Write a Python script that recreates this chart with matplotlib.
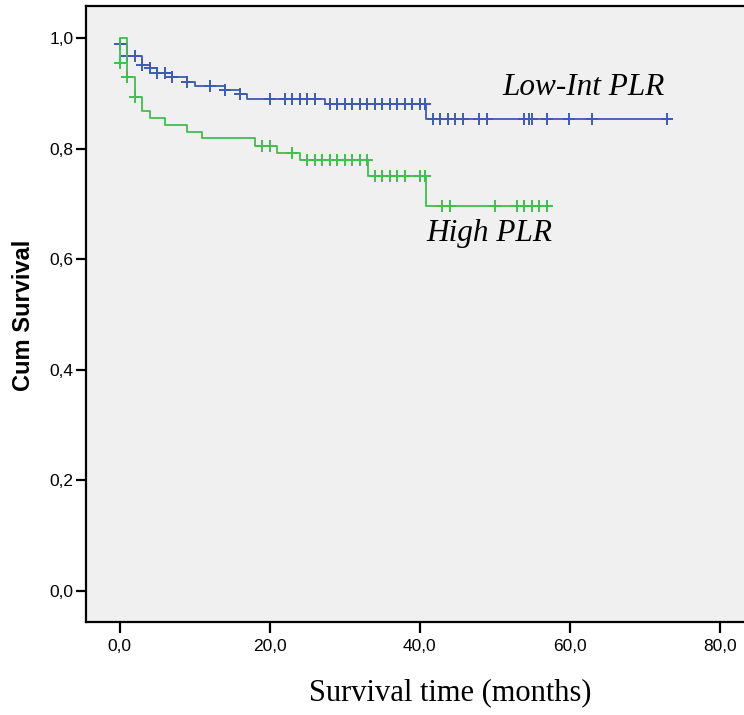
import matplotlib
matplotlib.use("Agg")
import matplotlib.pyplot as plt
from matplotlib.ticker import FuncFormatter

# Low-Int PLR group: step times and survival after each step
low_times = [0.0, 1.0, 3.0, 4.0, 4.9, 6.9, 9.0, 10.0, 14.0, 16.0, 17.0, 27.3, 40.8]
low_surv = [0.989, 0.967, 0.952, 0.945, 0.937, 0.929, 0.921, 0.914, 0.906, 0.898, 0.890, 0.880, 0.853]
low_end = 73.4
low_cens_t = [0.0, 1.0, 2.0, 3.0, 4.0, 5.0, 6.0, 6.9, 9.0, 12.0, 14.0, 16.0,
              20.0, 22.0, 23.0, 24.0, 25.0, 26.0,
              28.0, 29.0, 30.0, 31.0, 32.0, 33.0, 34.0, 35.0, 36.0, 37.0, 38.0, 39.0, 40.0,
              40.7, 41.7, 42.7, 43.7, 44.7, 45.7, 47.9, 48.9, 53.9, 54.6, 54.9, 56.9, 59.9, 62.9, 72.9]

# High PLR group
high_times = [0.0, 0.0, 1.0, 2.0, 3.0, 4.0, 6.0, 9.0, 11.0, 18.0, 21.0, 24.0, 33.1, 40.8]
high_surv = [0.955, 1.0, 0.930, 0.893, 0.869, 0.856, 0.843, 0.831, 0.819, 0.805, 0.793, 0.779, 0.750, 0.697]
high_end = 57.5
high_cens_t = [0.0, 1.0, 2.0, 19.0, 20.0, 23.0,
               25.0, 26.0, 27.0, 28.0, 29.0, 30.0, 31.0, 32.0,
               33.0, 34.0, 35.0, 36.0, 37.0, 38.0, 40.0,
               40.7, 43.0, 44.0, 50.0, 52.9, 53.9, 54.9, 55.9, 56.9]

x_ticks = [0, 20, 40, 60, 80]
y_ticks = [0.0, 0.2, 0.4, 0.6, 0.8, 1.0]

blue = "#3e5bb0"
green = "#40bf4f"


def surv_at(times, surv, t):
    s = surv[0]
    for ti, si in zip(times, surv):
        if ti <= t:
            s = si
    return s


def draw_group(ax, times, surv, end, cens, color):
    ax.step(times + [end], surv + [surv[-1]], where="post", color=color, lw=1.3)
    cs = [surv_at(times, surv, t) for t in cens]
    # first mark at t=0 sits on the first drawn level
    if cens and cens[0] == 0.0:
        cs[0] = surv[0]
    ax.plot(cens, cs, ls="none", marker="+", ms=8, mew=1.4, color=color)


fig = plt.figure(figsize=(7.44, 7.15), dpi=100)
ax = fig.add_axes([86 / 744, 93 / 715, 1 - 86 / 744, (622 - 6) / 715])
ax.set_facecolor("#f0f0f0")

draw_group(ax, low_times, low_surv, low_end, low_cens_t, blue)
draw_group(ax, high_times, high_surv, high_end, high_cens_t, green)

ax.set_xlim(-4.5, 83.2)
ax.set_ylim(-0.056, 1.058)
ax.set_xticks(x_ticks)
ax.set_yticks(y_ticks)
fmt = FuncFormatter(lambda v, p: f"{v:.1f}".replace(".", ","))
ax.xaxis.set_major_formatter(fmt)
ax.yaxis.set_major_formatter(fmt)
ax.tick_params(axis="x", length=8, width=1.6, pad=4, labelsize=12.5)
ax.tick_params(axis="y", length=7, width=1.6, pad=2, labelsize=12.5)
for lab in ax.get_xticklabels() + ax.get_yticklabels():
    lab.set_family("Liberation Sans")

for side in ["left", "bottom", "top"]:
    ax.spines[side].set_linewidth(1.6)
ax.spines["right"].set_visible(False)

ax.text(51.0, 0.911, "Low-Int PLR", family="Liberation Serif", style="italic",
        fontsize=22.5, ha="left", va="center")
ax.text(40.9, 0.647, "High PLR", family="Liberation Serif", style="italic",
        fontsize=22.5, ha="left", va="center")

fig.text(450 / 744, 1 - 693 / 715, "Survival time (months)", family="Liberation Serif",
         fontsize=22, ha="center", va="center")
fig.text(24 / 744, 1 - 315 / 715, "Cum Survival", family="Liberation Sans",
         fontweight="bold", fontsize=17, rotation=90, ha="center", va="center")

fig.savefig("out.png", dpi=100, facecolor="white")
